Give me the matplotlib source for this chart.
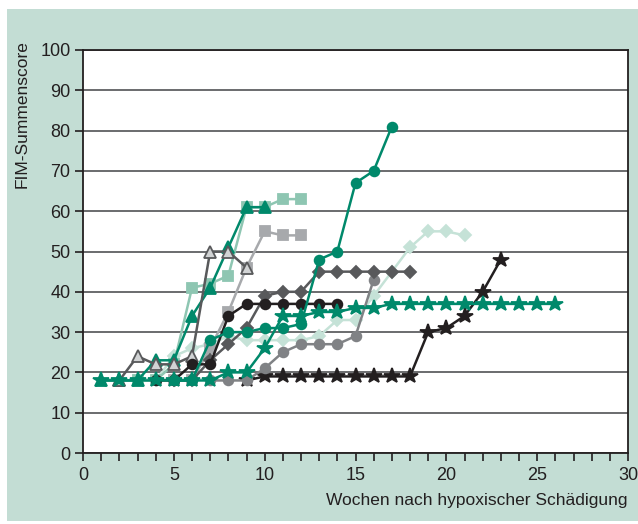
import matplotlib
matplotlib.use("Agg")
from matplotlib import pyplot as plt
from matplotlib.patches import Rectangle
import numpy as np

plt.rcParams['font.family'] = ['Liberation Sans Narrow', 'Liberation Sans', 'DejaVu Sans']

# FIM-Summenscore je Woche; (erste Woche, Werte)
tri_open = (2, [18, 24, 22, 22, 24, 50, 50, 46])
tri_teal = (1, [18, 18, 18, 23, 23, 34, 41, 51, 61, 61])
sq_light = (3, [18, 18, 22, 41, 42, 44, 61, 61, 63, 63])
sq_gray = (5, [18, 18, 26, 35, 46, 55, 54, 54])
circ_black = (4, [18, 18, 22, 22, 34, 37, 37, 37, 37, 37, 37])
diam_dark = (5, [18, 18, 23, 27, 31, 39, 40, 40, 45, 45, 45, 45, 45, 45])
circ_teal = (5, [18, 18, 28, 30, 30, 31, 31, 32, 48, 50, 67, 70, 81])
diam_mint = (4, [18, 24, 26, 27, 29, 28, 28, 28, 28, 29, 33, 33, 39, 45,
                 51, 55, 55, 54])
circ_gray = (7, [18, 18, 18, 21, 25, 27, 27, 27, 29, 43])
star_black = (9, [18, 19, 19, 19, 19, 19, 19, 19, 19, 19, 30, 31, 34, 40, 48])
star_teal = (1, [18, 18, 18, 18, 18, 18, 18, 20, 20, 26, 34, 34, 35, 35, 36, 36,
                 37, 37, 37, 37, 37, 37, 37, 37, 37, 37])

TEAL = '#00896b'
LIGHT_TEAL = '#8ec6b2'
MINT = '#c5e2d7'
GRAY = '#a7a9ac'
MID_GRAY = '#808285'
DARK_GRAY = '#58595b'
BLACK = '#231f20'
BG = '#c3ddd4'

fig = plt.figure(figsize=(6.38, 5.24), dpi=100, facecolor='white')
fig.patches.append(Rectangle((7 / 638, 3 / 524), 631 / 638, 512 / 524,
                             transform=fig.transFigure, facecolor=BG,
                             edgecolor='none', zorder=-5))
ax = fig.add_axes([83 / 638, 1 - 453 / 524, 545 / 638, 403 / 524])
ax.set_zorder(2)
ax.set_facecolor('white')


def draw(series, color, marker, ms, mfc=None, mec=None):
    first, values = series
    weeks = np.arange(first, first + len(values))
    ax.plot(weeks, values, color=color, lw=1.8, marker=marker, ms=ms,
            mfc=mfc or color, mec=mec or color, mew=1.3)


draw(diam_mint, MINT, 'D', 6.5)
draw(sq_light, LIGHT_TEAL, 's', 7)
draw(sq_gray, GRAY, 's', 7)
draw(star_black, BLACK, '*', 11.5)
draw(circ_gray, MID_GRAY, 'o', 7)
draw(diam_dark, DARK_GRAY, 'D', 6.5)
draw(tri_teal, TEAL, '^', 8.5)
draw(tri_open, DARK_GRAY, '^', 8, mfc='#d1d3d4', mec=DARK_GRAY)
draw(circ_black, BLACK, 'o', 7)
draw(circ_teal, TEAL, 'o', 7)
draw(star_teal, TEAL, '*', 11.5)

ax.set_xlim(0, 30)
ax.set_ylim(0, 100)
ax.set_xticks(range(0, 31, 5))
ax.set_xticks(range(0, 31), minor=True)
ax.set_yticks(range(0, 101, 10))
ax.yaxis.grid(True, color='#5f6062', lw=1.3)
ax.set_axisbelow(True)
ax.tick_params(axis='both', which='both', direction='out', length=6,
               width=1.2, color='#231f20', labelsize=13, labelcolor='#231f20')
ax.tick_params(axis='x', pad=4)
ax.tick_params(axis='y', pad=3)
for side in ax.spines.values():
    side.set_color('#231f20')
    side.set_linewidth(1.3)

fig.text(22 / 638, 1 - 40 / 524, 'FIM-Summenscore', rotation=90,
         ha='center', va='top', fontsize=12.5, color='#231f20')
fig.text(627 / 638, 1 - 500 / 524, 'Wochen nach hypoxischer Schädigung',
         ha='right', va='center', fontsize=12.5, color='#231f20')

fig.savefig('out.png', dpi=100, facecolor='white')
